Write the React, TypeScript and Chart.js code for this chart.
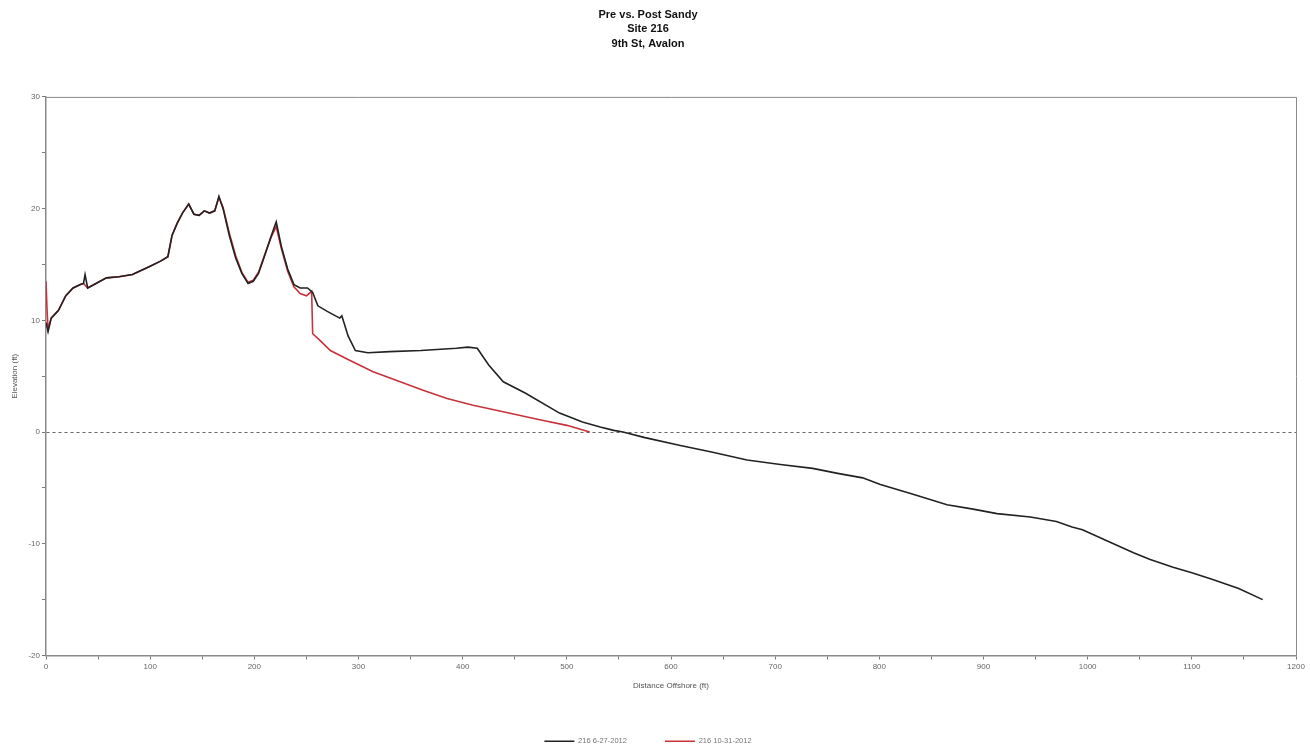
import React, { useEffect, useRef } from "react";
import { Chart, registerables } from "chart.js";

Chart.register(...registerables);

const titleLines = ["Pre vs. Post Sandy", "Site 216", "9th St, Avalon"];
const xAxisTitle = "Distance Offshore (ft)";
const yAxisTitle = "Elevation (ft)";

const preLabel = "216 6-27-2012";
const preX = [0, 2, 5, 12, 19, 26, 33, 36, 37.5, 40, 48, 58, 70, 83, 99, 110, 117, 121, 126, 131, 137, 142, 147, 152, 157, 162, 166, 170, 176, 182, 188, 194, 199, 204, 210, 216, 221, 226, 232, 238, 244, 251, 256, 261, 270, 282, 284, 290, 297, 309, 330, 360, 394, 405, 414, 425, 439, 460, 493, 515, 532, 545, 554, 575, 609, 640, 673, 705, 736, 760, 784, 801, 830, 865, 890, 913, 945, 970, 985, 995, 1020, 1044, 1060, 1082, 1100, 1120, 1145, 1168];
const preY = [9.8, 9.0, 10.2, 10.9, 12.2, 12.9, 13.2, 13.3, 14.1, 12.9, 13.3, 13.8, 13.9, 14.1, 14.8, 15.3, 15.7, 17.6, 18.7, 19.6, 20.4, 19.5, 19.4, 19.8, 19.6, 19.8, 21.1, 20.0, 17.6, 15.6, 14.2, 13.3, 13.5, 14.2, 15.8, 17.5, 18.8, 16.6, 14.6, 13.2, 12.9, 12.9, 12.5, 11.3, 10.8, 10.2, 10.4, 8.6, 7.3, 7.1, 7.2, 7.3, 7.5, 7.6, 7.5, 6.0, 4.5, 3.5, 1.7, 0.9, 0.45, 0.15, 0.0, -0.5, -1.2, -1.8, -2.5, -2.9, -3.25, -3.7, -4.1, -4.7, -5.5, -6.5, -6.9, -7.3, -7.6, -8.0, -8.5, -8.75, -9.8, -10.8, -11.4, -12.1, -12.6, -13.2, -14.0, -15.0];

const postLabel = "216 10-31-2012";
const postX = [0, 1, 2, 5, 12, 19, 26, 33, 36, 40, 48, 58, 70, 83, 99, 110, 117, 121, 126, 131, 137, 142, 147, 152, 157, 162, 166, 170, 176, 182, 188, 194, 199, 204, 210, 216, 221, 226, 232, 238, 244, 250, 255, 256, 262, 273, 290, 314, 340, 362, 385, 410, 440, 474, 500, 522];
const postY = [13.5, 11.0, 9.2, 10.2, 10.9, 12.2, 12.9, 13.2, 13.3, 12.9, 13.3, 13.8, 13.9, 14.1, 14.8, 15.3, 15.7, 17.6, 18.7, 19.6, 20.4, 19.5, 19.4, 19.8, 19.6, 19.8, 21.0, 20.1, 17.8, 15.8, 14.3, 13.4, 13.6, 14.3, 15.9, 17.4, 18.4, 16.4, 14.4, 13.0, 12.4, 12.2, 12.6, 8.8, 8.3, 7.3, 6.5, 5.4, 4.5, 3.75, 3.0, 2.4, 1.8, 1.1, 0.6, 0.0];

const xMin = 0;
const xMax = 1200;
const xStep = 50;
const xLabelEvery = 100;
const yMin = -20;
const yMax = 30;
const yStep = 5;
const yLabelEvery = 10;

const toPoints = (xs: number[], ys: number[]) => xs.map((x, i) => ({ x, y: ys[i] }));

const framePlugin = {
  id: "frame",
  afterDatasetsDraw(chart: any) {
    const { ctx, chartArea } = chart;
    ctx.save();
    ctx.strokeStyle = "#8a8a8a";
    ctx.lineWidth = 1;
    ctx.setLineDash([]);
    ctx.beginPath();
    ctx.moveTo(chartArea.left, chartArea.top + 0.5);
    ctx.lineTo(chartArea.right + 0.5, chartArea.top + 0.5);
    ctx.lineTo(chartArea.right + 0.5, chartArea.bottom);
    ctx.stroke();
    ctx.restore();
  },
};

export default function App() {
  const canvasRef = useRef<HTMLCanvasElement | null>(null);

  useEffect(() => {
    if (!canvasRef.current) return;
    Chart.defaults.font.family = "'Liberation Sans', Arial, sans-serif";
    const chart = new Chart(canvasRef.current, {
      type: "line",
      data: {
        datasets: [
          {
            label: preLabel,
            data: toPoints(preX, preY),
            borderColor: "#222222",
            backgroundColor: "#222222",
            borderWidth: 1.6,
            pointRadius: 0,
            tension: 0,
          },
          {
            label: postLabel,
            data: toPoints(postX, postY),
            borderColor: "#c8323a",
            backgroundColor: "#c8323a",
            borderWidth: 1.6,
            pointRadius: 0,
            tension: 0,
          },
        ],
      },
      options: {
        animation: false,
        responsive: false,
        maintainAspectRatio: false,
        layout: { padding: { left: 0, right: 14, top: 0, bottom: -9 } },
        plugins: {
          title: {
            display: true,
            text: titleLines,
            color: "#111",
            font: { size: 11, weight: "bold", lineHeight: 1.3 },
            padding: { top: 8, bottom: 46 },
          },
          legend: {
            display: true,
            position: "bottom",
            labels: {
              usePointStyle: true,
              pointStyle: "line",
              pointStyleWidth: 30,
              boxHeight: 8,
              color: "#777",
              font: { size: 7.5 },
              padding: 38,
            },
          },
          tooltip: { enabled: false },
        },
        scales: {
          x: {
            type: "linear",
            min: xMin,
            max: xMax,
            ticks: {
              stepSize: xStep,
              color: "#666",
              font: { size: 8 },
              padding: 2,
              maxRotation: 0,
              autoSkip: false,
              callback: (v: any) => (Number(v) % xLabelEvery === 0 ? String(v) : ""),
            },
            grid: {
              drawOnChartArea: false,
              drawTicks: true,
              tickLength: 4,
              tickColor: "#777",
            },
            border: { display: true, color: "#8a8a8a", width: 1.5 },
            title: {
              display: true,
              text: xAxisTitle,
              color: "#555",
              font: { size: 8 },
              padding: { top: 4, bottom: 9 },
            },
            afterFit: (scale: any) => {
              scale.height = 44;
            },
          },
          y: {
            type: "linear",
            min: yMin,
            max: yMax,
            ticks: {
              stepSize: yStep,
              color: "#666",
              font: { size: 8 },
              padding: 2,
              autoSkip: false,
              callback: (v: any) => (Number(v) % yLabelEvery === 0 ? String(v) : ""),
            },
            grid: {
              drawOnChartArea: true,
              drawTicks: true,
              tickLength: 4,
              tickColor: "#777",
              color: (ctx: any) => (ctx.tick && ctx.tick.value === 0 ? "#666" : "rgba(0,0,0,0)"),
              tickBorderDash: [],
              lineWidth: 1,
            },
            border: { display: true, color: "#8a8a8a", width: 1.5, dash: [3, 3] },
            title: {
              display: true,
              text: yAxisTitle,
              color: "#555",
              font: { size: 8 },
              padding: { top: 10, bottom: 0 },
            },
            afterFit: (scale: any) => {
              scale.width = 46;
            },
          },
        },
      },
      plugins: [framePlugin],
    });
    return () => chart.destroy();
  }, []);

  return (
    <div style={{ position: "fixed", left: 0, top: 0, width: 1310, height: 746, background: "#fff" }}>
      <canvas ref={canvasRef} width={1310} height={746} />
    </div>
  );
}
